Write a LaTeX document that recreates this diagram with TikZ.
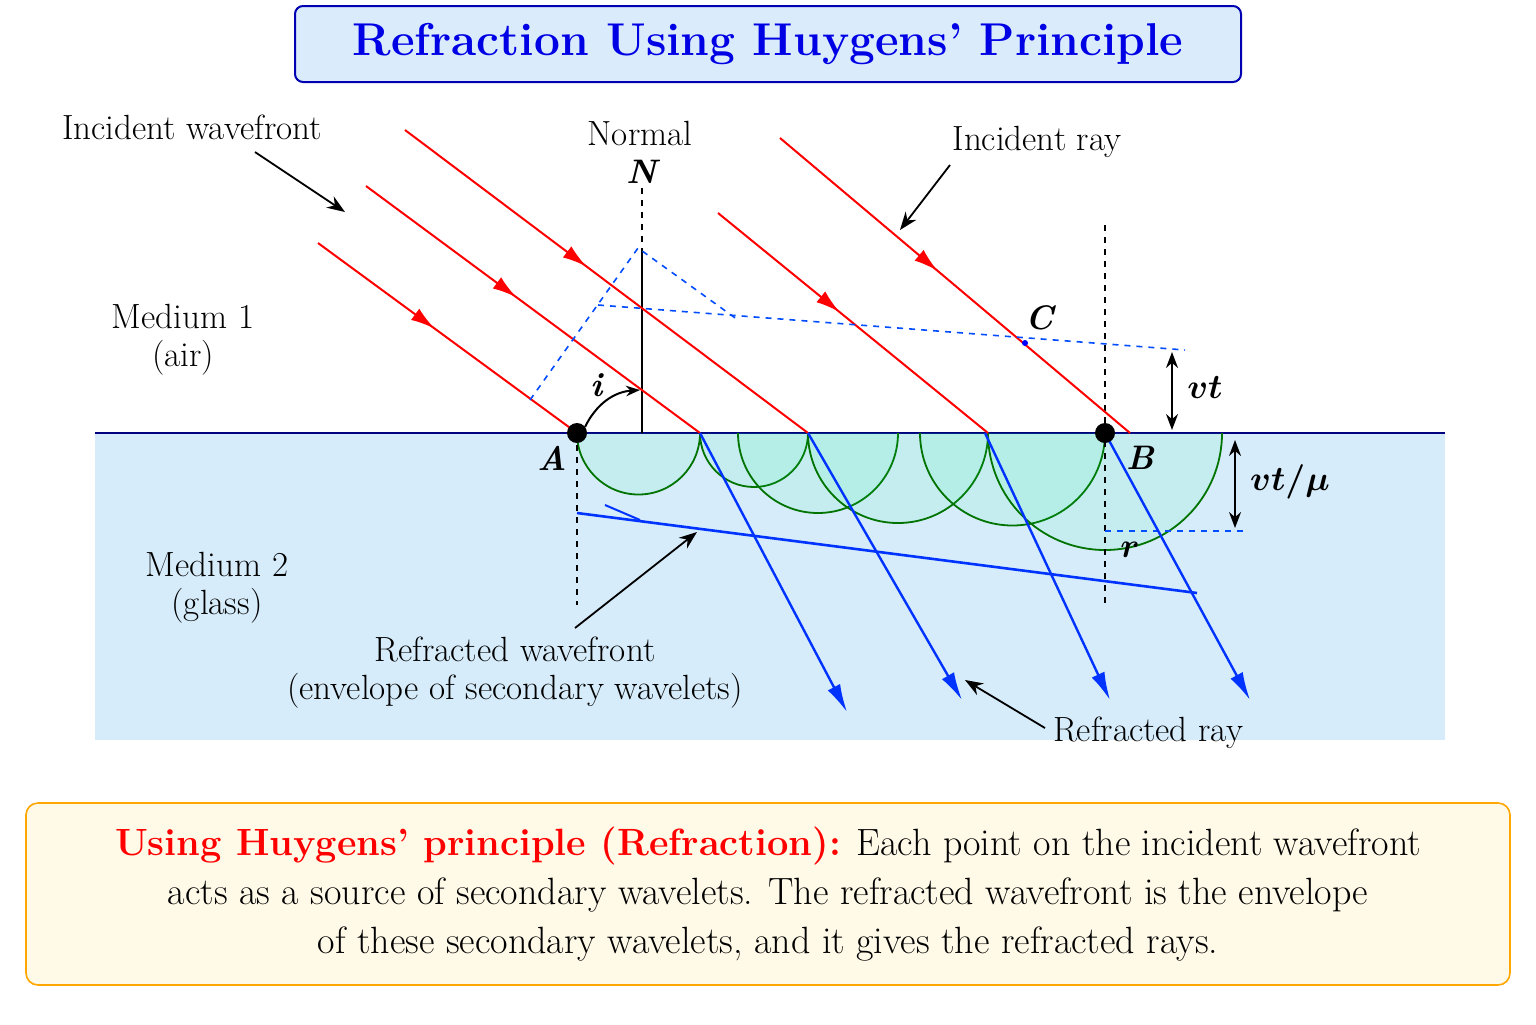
\documentclass[tikz,border=0pt]{standalone}
\usepackage{amsmath,bm}
\usetikzlibrary{arrows.meta,decorations.markings}
\definecolor{glass}{RGB}{214,236,250}
\definecolor{tfill}{RGB}{218,236,252}
\definecolor{bfill}{RGB}{255,250,232}
\begin{document}
\begin{tikzpicture}[x=0.5pt,y=-0.5pt,
 lbl/.style={font=\fontsize{17.5}{19}\selectfont,align=center},
 pt/.style={font=\fontsize{17}{19}\selectfont\bfseries\itshape},
 red ray/.style={red,line width=1pt,postaction={decorate},decoration={markings,mark=at position 0.45 with {\arrow{Latex[length=12pt,width=7pt]}}}},
 blue ray/.style={blue!80!cyan,line width=1.2pt,-{Latex[length=14pt,width=7pt]}},
 wl/.style={green!45!black,line width=0.9pt,fill=green!50!cyan,fill opacity=0.08},
 bd/.style={blue!70!cyan,dashed,line width=0.8pt},
 pointer/.style={black,line width=0.9pt,-{Stealth[length=9pt]}}]
\useasboundingbox (0,0) rectangle (1536,1024);
\fill[white] (0,0) rectangle (1536,1024);
% title
\node[draw=blue!70!black,fill=tfill,rounded corners=4pt,line width=1pt,minimum width=473pt,minimum height=38pt] (title) at (768,44) {};
\node[font=\fontsize{23}{26}\selectfont\bfseries,text=blue!90!black] (tt) at (768,44) {Refraction Using Huygens' Principle};
% glass
\fill[glass] (95,433) rectangle (1445,740);
\draw[blue!50!black,line width=1pt] (95,433) -- (1445,433);
% wavelets
\foreach \a/\b in {577/700,700/808,738/898,808/988,920/1105,988/1222}{
 \draw[wl] (\a,433) arc[start angle=180,end angle=0,radius={(\b-\a)/2}];}
% normals
\draw[black,dashed,line width=1pt] (642,188) -- (642,250);
\draw[black,line width=1.2pt] (642,250) -- (642,433);
\draw[black,dashed,line width=0.9pt] (1105,225) -- (1105,605);
\draw[black,dashed,line width=0.9pt] (577,433) -- (577,605);
% incident rays
\draw[red ray] (318,243) -- (577,433);
\draw[red ray] (366,186) -- (700,433);
\draw[red ray] (405,130) -- (808,433);
\draw[red ray] (718,213) -- (988,433);
\draw[red ray] (780,138) -- (1130,433);
% dashed wavefront construction
\draw[bd] (530,400) -- (638,248) -- (738,320);
\draw[bd] (598,305) -- (1185,350);
\coordinate (C) at (1025,343);
\fill[blue] (C) circle (3);
\node[pt] at (1040,318) {C};
% refracted wavefront
\draw[blue!80!cyan,line width=1.3pt] (577,513) -- (1197,593);
\draw[blue!80!cyan,line width=1pt] (605,505) -- (640,520);
\draw[bd] (1105,531) -- (1245,531);
% refracted rays
\draw[blue ray] (700,433) -- (847,712);
\draw[blue ray] (808,433) -- (962,700);
\draw[blue ray] (985,433) -- (1110,700);
\draw[blue ray] (1105,433) -- (1250,700);
% points
\node[circle,fill=black,inner sep=0,minimum size=10pt] (A) at (577,433) {};
\node[circle,fill=black,inner sep=0,minimum size=10pt] (B) at (1105,433) {};
\node[pt] at (552,458) {A};
\node[pt] at (1140,458) {B};
\node[pt] at (642,172) {N};
\node[lbl] at (640,133) {Normal};
% angle i
\draw[black,line width=1pt,-{Stealth[length=7pt]}] (585,427) to[bend left=30] (640,390);
\node[pt] at (597,385) {i};
% vt arrows
\draw[black,line width=1pt,{Stealth[length=8pt]}-{Stealth[length=8pt]}] (1172,352) -- (1172,430);
\node at (1205,388) {\fontsize{17}{19}\selectfont$\bm{vt}$};
\draw[black,line width=1pt,{Stealth[length=8pt]}-{Stealth[length=8pt]}] (1235,440) -- (1235,528);
\node at (1290,482) {\fontsize{17}{19}\selectfont$\bm{vt/\mu}$};
\node at (1130,550) {\fontsize{17}{19}\selectfont$\bm{r}$};
% labels
\node[lbl] at (192,127) {Incident wavefront};
\draw[pointer] (255,152) -- (345,212);
\node[lbl] at (1037,142) {Incident ray};
\draw[pointer] (950,165) -- (900,230);
\node[lbl] at (183,340) {Medium 1\\(air)};
\node[lbl] at (217,588) {Medium 2\\(glass)};
\node[lbl] at (515,673) {Refracted wavefront\\(envelope of secondary wavelets)};
\draw[pointer] (575,628) -- (697,532);
\node[lbl] at (1148,733) {Refracted ray};
\draw[pointer] (1045,728) -- (965,680);
% bottom box
\node[draw=orange!70!yellow,fill=bfill,rounded corners=6pt,line width=0.8pt,minimum width=742pt,minimum height=91pt] (box) at (768,894) {};
\node[align=center,font=\fontsize{19}{24.5}\selectfont] at (768,894) {\textcolor{red}{\bfseries Using Huygens' principle (Refraction):} Each point on the incident wavefront\\ acts as a source of secondary wavelets. The refracted wavefront is the envelope\\ of these secondary wavelets, and it gives the refracted rays.};
\end{tikzpicture}
\end{document}
